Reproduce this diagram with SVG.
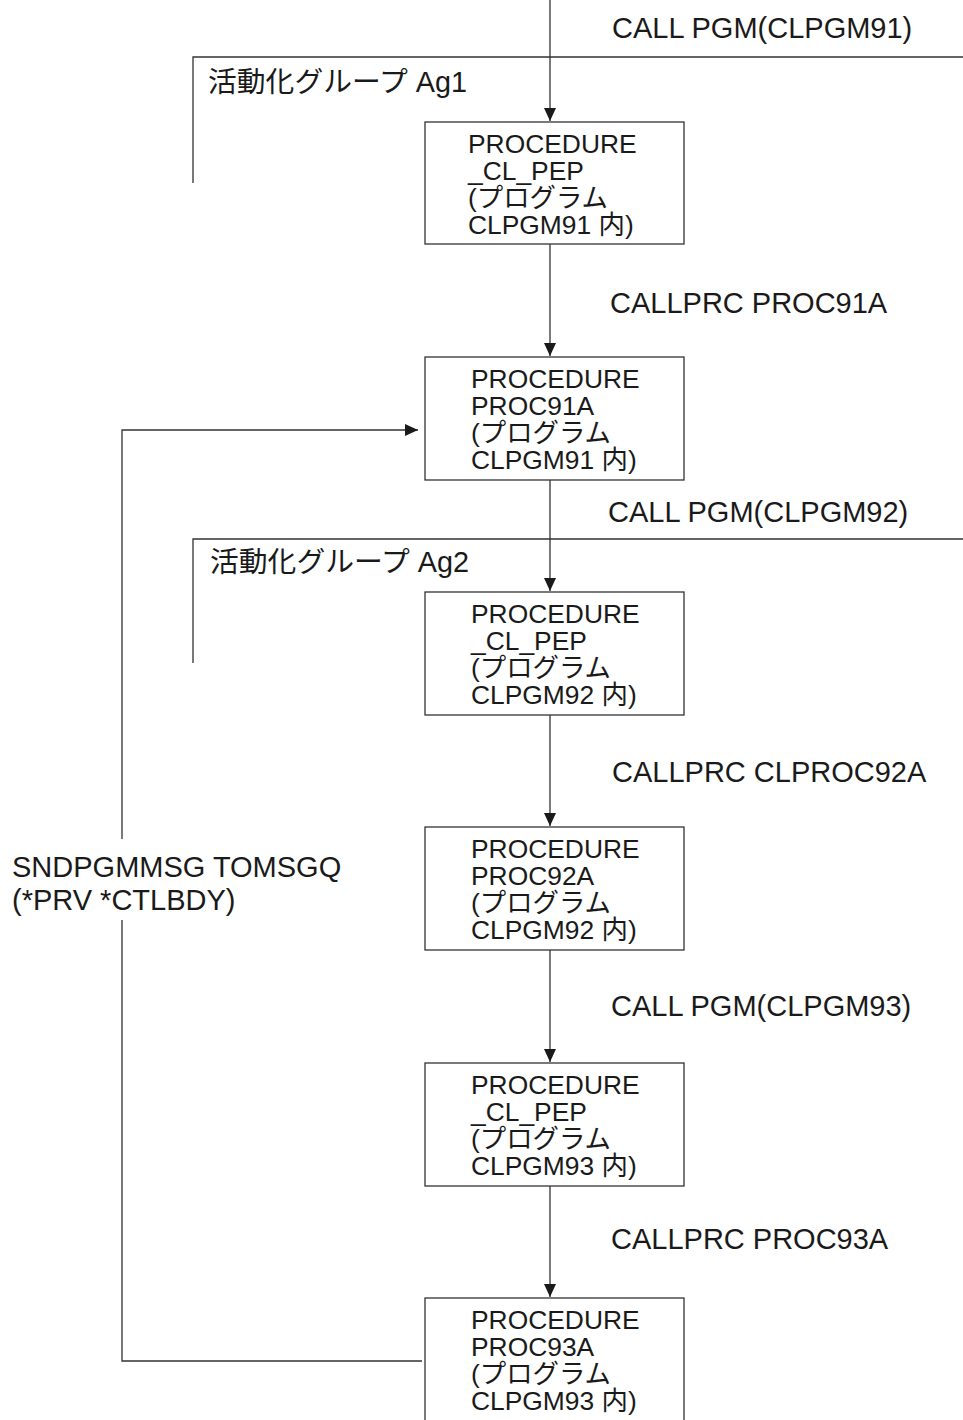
<svg xmlns="http://www.w3.org/2000/svg" width="963" height="1420" viewBox="0 0 963 1420">
<style>
text{font-family:"Liberation Sans","Noto Sans CJK JP",Arial,sans-serif;fill:#1a1a1a}
.bt{font-size:26.4px}
.lb{font-size:29px}
.gl{font-size:28.8px}
.box{fill:#fff;stroke:#333;stroke-width:1.3}
.ln{fill:none;stroke:#333;stroke-width:1.3}
</style>
<defs>
<marker id="ah" markerWidth="13" markerHeight="12" refX="13" refY="6" orient="auto" markerUnits="userSpaceOnUse">
<path d="M0,0 L13,6 L0,12 Z" fill="#1a1a1a"/>
</marker>
</defs>
<rect width="963" height="1420" fill="#fff"/>
<g id="group-ag1">
<path class="ln" d="M193,183 V57 H963"/>
<text class="gl" x="208" y="92">活動化グループ Ag1</text>
</g>
<g id="group-ag2">
<path class="ln" d="M193,663 V539 H963"/>
<text class="gl" x="210" y="572">活動化グループ Ag2</text>
</g>
<g id="connectors">
<path class="ln" d="M550,0 V121" marker-end="url(#ah)"/>
<path class="ln" d="M550,244 V356" marker-end="url(#ah)"/>
<path class="ln" d="M550,480 V591" marker-end="url(#ah)"/>
<path class="ln" d="M550,715 V826" marker-end="url(#ah)"/>
<path class="ln" d="M550,950 V1062" marker-end="url(#ah)"/>
<path class="ln" d="M550,1186 V1297" marker-end="url(#ah)"/>
<path class="ln" d="M422,1361 H122 V920"/>
<path class="ln" d="M122,839 V430 H418" marker-end="url(#ah)"/>
<text class="lb" x="612" y="38">CALL PGM(CLPGM91)</text>
<text class="lb" x="610" y="313">CALLPRC PROC91A</text>
<text class="lb" x="608" y="522">CALL PGM(CLPGM92)</text>
<text class="lb" x="612" y="782">CALLPRC CLPROC92A</text>
<text class="lb" x="611" y="1016">CALL PGM(CLPGM93)</text>
<text class="lb" x="611" y="1249">CALLPRC PROC93A</text>
<text class="lb" x="12" y="877">SNDPGMMSG TOMSGQ</text>
<text class="lb" x="12" y="910">(*PRV *CTLBDY)</text>
</g>
<g id="node1">
<rect class="box" x="425" y="122" width="259" height="122"/>
<text class="bt"><tspan x="468" y="153">PROCEDURE</tspan><tspan x="468" y="180">_CL_PEP</tspan><tspan x="468" y="207">(プログラム</tspan><tspan x="468" y="234">CLPGM91 内)</tspan></text>
</g>
<g id="node2">
<rect class="box" x="425" y="357" width="259" height="123"/>
<text class="bt"><tspan x="471" y="388">PROCEDURE</tspan><tspan x="471" y="415">PROC91A</tspan><tspan x="471" y="442">(プログラム</tspan><tspan x="471" y="469">CLPGM91 内)</tspan></text>
</g>
<g id="node3">
<rect class="box" x="425" y="592" width="259" height="123"/>
<text class="bt"><tspan x="471" y="623">PROCEDURE</tspan><tspan x="471" y="650">_CL_PEP</tspan><tspan x="471" y="677">(プログラム</tspan><tspan x="471" y="704">CLPGM92 内)</tspan></text>
</g>
<g id="node4">
<rect class="box" x="425" y="827" width="259" height="123"/>
<text class="bt"><tspan x="471" y="858">PROCEDURE</tspan><tspan x="471" y="885">PROC92A</tspan><tspan x="471" y="912">(プログラム</tspan><tspan x="471" y="939">CLPGM92 内)</tspan></text>
</g>
<g id="node5">
<rect class="box" x="425" y="1063" width="259" height="123"/>
<text class="bt"><tspan x="471" y="1094">PROCEDURE</tspan><tspan x="471" y="1121">_CL_PEP</tspan><tspan x="471" y="1148">(プログラム</tspan><tspan x="471" y="1175">CLPGM93 内)</tspan></text>
</g>
<g id="node6">
<rect class="box" x="425" y="1298" width="259" height="140"/>
<text class="bt"><tspan x="471" y="1329">PROCEDURE</tspan><tspan x="471" y="1356">PROC93A</tspan><tspan x="471" y="1383">(プログラム</tspan><tspan x="471" y="1410">CLPGM93 内)</tspan></text>
</g>
</svg>
